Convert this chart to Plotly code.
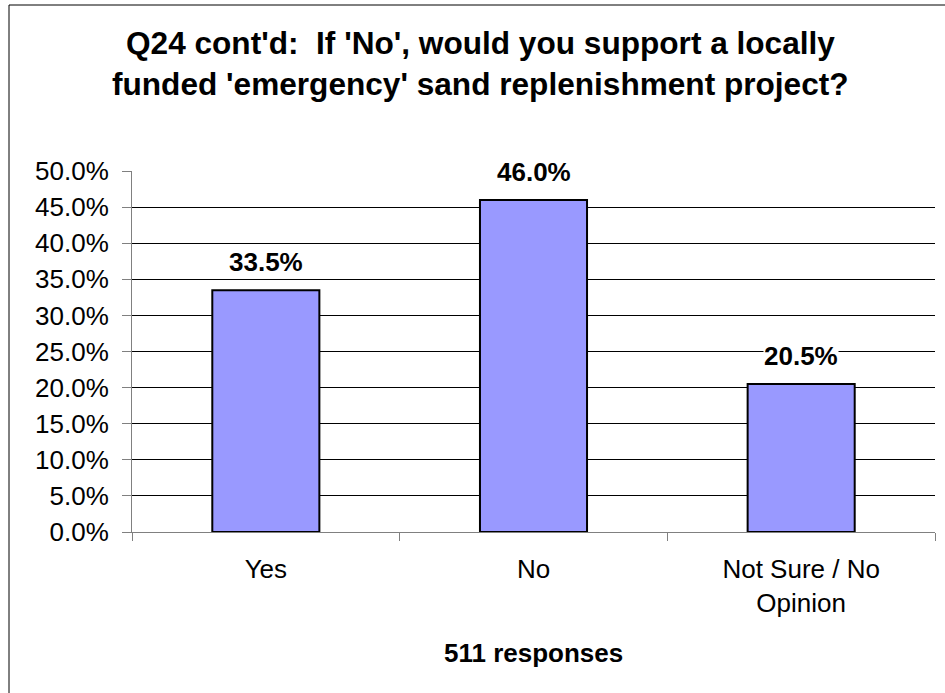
import plotly.graph_objects as go

categories = ["Yes", "No", "Not Sure / No<br>Opinion"]
values = [0.335, 0.460, 0.205]
value_labels = ["33.5%", "46.0%", "20.5%"]
title_lines = ["Q24 cont'd:  If 'No', would you support a locally",
               "funded 'emergency' sand replenishment project?"]
x_title = "511 responses"

FONT = "Liberation Sans, Arial, sans-serif"

fig = go.Figure()
fig.add_trace(go.Bar(
    x=categories, y=values,
    marker=dict(color="#9999FF", line=dict(color="black", width=2)),
    hoverinfo="skip",
))

annotations = []
for c, v, t in zip(categories, values, value_labels):
    annotations.append(dict(x=c, y=v, xref="x", yref="y", text="<b>%s</b>" % t,
                            showarrow=False, yanchor="bottom", yshift=12,
                            bgcolor="white", borderpad=0,
                            font=dict(family=FONT, size=26, color="black")))

title_y = [1.3540, 1.2420]
for line, yy in zip(title_lines, title_y):
    annotations.append(dict(x=0.4346, y=yy, xref="paper", yref="paper",
                            text="<b>%s</b>" % line, showarrow=False,
                            xanchor="center", yanchor="middle",
                            font=dict(family=FONT, size=31.6, color="black")))

annotations.append(dict(x=0.5, y=-0.3352, xref="paper", yref="paper",
                        text="<b>%s</b>" % x_title, showarrow=False,
                        xanchor="center", yanchor="middle",
                        font=dict(family=FONT, size=26, color="black")))

L, R, T, B = 132, 10, 171, 161
W, H = 945, 693
pw, ph = W - L - R, H - T - B

fig.update_layout(
    width=W, height=H,
    margin=dict(l=L, r=R, t=T, b=B, pad=0),
    paper_bgcolor="white", plot_bgcolor="white",
    bargap=0.6,
    showlegend=False,
    annotations=annotations,
    font=dict(family=FONT, size=26, color="black"),
    shapes=[dict(type="rect", xref="paper", yref="paper",
                 x0=(9 - L) / pw, x1=(W + 10 - L) / pw,
                 y0=-(H + 10 - (H - B)) / ph, y1=1 + (T - 5) / ph,
                 line=dict(color="black", width=1), fillcolor="rgba(0,0,0,0)",
                 layer="below")],
)

fig.update_yaxes(
    range=[0, 0.5], tickvals=[i * 0.05 for i in range(11)], tickformat=".1%",
    showgrid=True, gridcolor="black", gridwidth=1,
    showline=True, linecolor="#808080", linewidth=1,
    ticks="outside", ticklen=9, tickcolor="#808080",
    zeroline=False, ticklabelstandoff=8,
    tickfont=dict(family=FONT, size=26, color="black"),
)
fig.update_xaxes(
    showline=True, linecolor="#808080", linewidth=1,
    ticks="outside", ticklen=8, tickcolor="#808080", tickson="boundaries",
    showgrid=False, ticklabelstandoff=14,
    tickfont=dict(family=FONT, size=26, color="black"),
)

fig.write_html(
    "out.html",
    config={"displayModeBar": False},
    post_script="document.documentElement.style.margin='0';"
                "document.body.style.margin='0';"
                "document.body.style.overflow='hidden';",
)
